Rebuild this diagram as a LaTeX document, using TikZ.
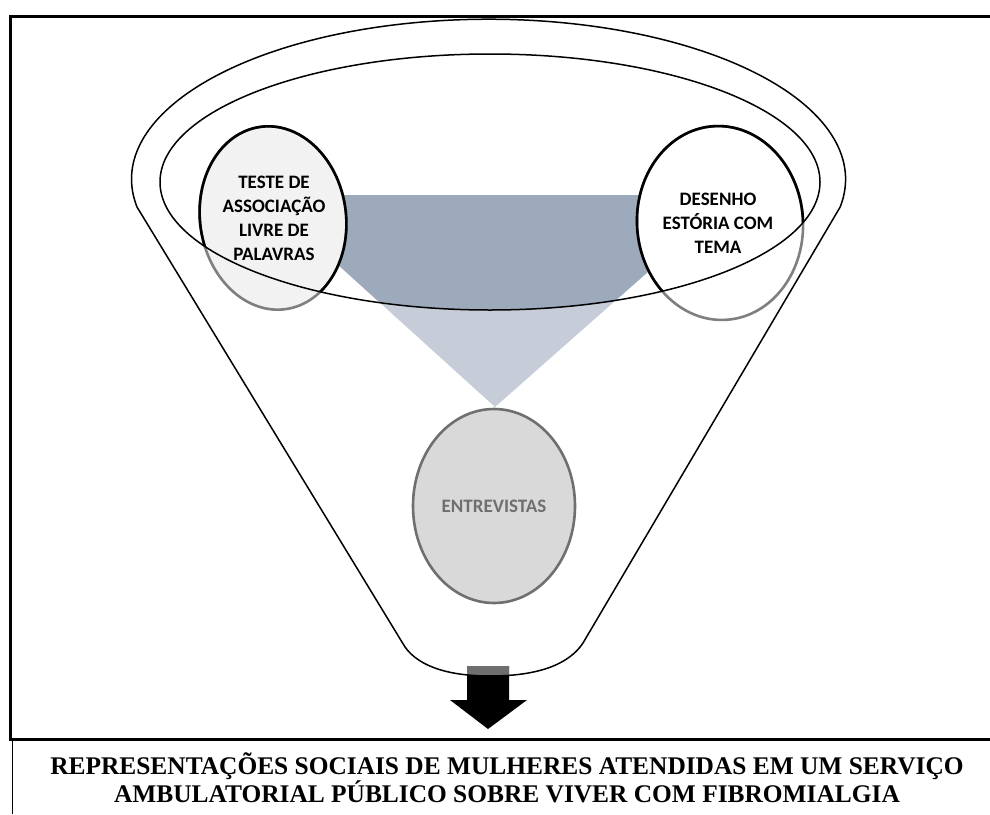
\documentclass[tikz,border=0pt]{standalone}
\usepackage{fontspec}
\setmainfont{Liberation Serif}
\newfontfamily\labelfont{Carlito}

\definecolor{bandDark}{HTML}{9DAABB}
\definecolor{bandLight}{HTML}{C6CDD9}
\definecolor{ringGray}{HTML}{7F7F7F}
\definecolor{discFill}{HTML}{F2F2F2}
\definecolor{interviewFill}{HTML}{D9D9D9}
\definecolor{interviewLine}{HTML}{6F6F6F}
\definecolor{shaftTop}{HTML}{6E6E6E}

\tikzset{
  frameline/.style={line width=3pt},
  funnelline/.style={line width=1.5pt, line join=round},
  ringline/.style={line width=2.6pt},
  disclabel/.style={align=center, inner sep=0pt,
    font=\labelfont\bfseries\fontsize{19}{24}\selectfont},
  titleline/.style={anchor=base, inner sep=0pt,
    font=\bfseries\fontsize{25.4}{28}\selectfont}
}

\begin{document}
\begin{tikzpicture}[x=1pt,y=-1pt]
\useasboundingbox (0,0) rectangle (990,814);

% shaded band joining the two upper methods to the interviews
\fill[bandLight] (261,195) -- (735,195) -- (495,407) -- cycle;
\begin{scope}
  \clip (490,182) ellipse [x radius=330, y radius=128];
  \fill[bandDark] (261,195) -- (735,195) -- (495,407) -- cycle;
\end{scope}

% upper discs (outline gray outside the rim, black inside it)
\filldraw[fill=discFill, draw=ringGray, ringline, rotate around={8:(273,218)}]
  (273,218) ellipse [x radius=73, y radius=92];
\filldraw[fill=white, draw=ringGray, ringline, rotate around={4:(720,223)}]
  (720,223) ellipse [x radius=83, y radius=97];
\begin{scope}
  \clip (490,182) ellipse [x radius=330, y radius=128];
  \draw[black, ringline, rotate around={8:(273,218)}]
    (273,218) ellipse [x radius=73, y radius=92];
  \draw[black, ringline, rotate around={4:(720,223)}]
    (720,223) ellipse [x radius=83, y radius=97];
\end{scope}

% interviews disc
\filldraw[fill=interviewFill, draw=interviewLine, ringline]
  (494,506) ellipse [x radius=81, y radius=97];

% output arrow
\fill[black] (467,666) -- (509,666) -- (509,700) -- (527,700) -- (488,729)
  -- (450,700) -- (467,700) -- cycle;
\fill[shaftTop] (467,666) rectangle (509,675);

% funnel: inner rim and outer body
\draw[funnelline] (490,182) ellipse [x radius=330, y radius=128];
\draw[funnelline] (137,207)
  arc[start angle=170, end angle=370, x radius=357, y radius=160]
  -- (583,643)
  .. controls (565,670) and (525,676) .. (490,676)
  .. controls (452,676) and (420,668) .. (405,647)
  -- cycle;

% labels
\node[disclabel] (tald) at (274,218) {TESTE DE\\ASSOCIAÇÃO\\LIVRE DE\\PALAVRAS};
\node[disclabel] (dest) at (718,223) {DESENHO\\ESTÓRIA COM\\TEMA};
\node[disclabel, text=interviewLine] (entr) at (494,506) {ENTREVISTAS};

% frame
\draw[frameline] (990,16) -- (10,16) -- (10,739) -- (990,739);
\draw[line width=1pt] (12,741) -- (12,814);

% caption
\node[titleline] (cap1) at (507,774)
  {REPRESENTAÇÕES SOCIAIS DE MULHERES ATENDIDAS EM UM SERVIÇO};
\node[titleline] (cap2) at (507,802)
  {AMBULATORIAL PÚBLICO SOBRE VIVER COM FIBROMIALGIA};
\end{tikzpicture}
\end{document}
